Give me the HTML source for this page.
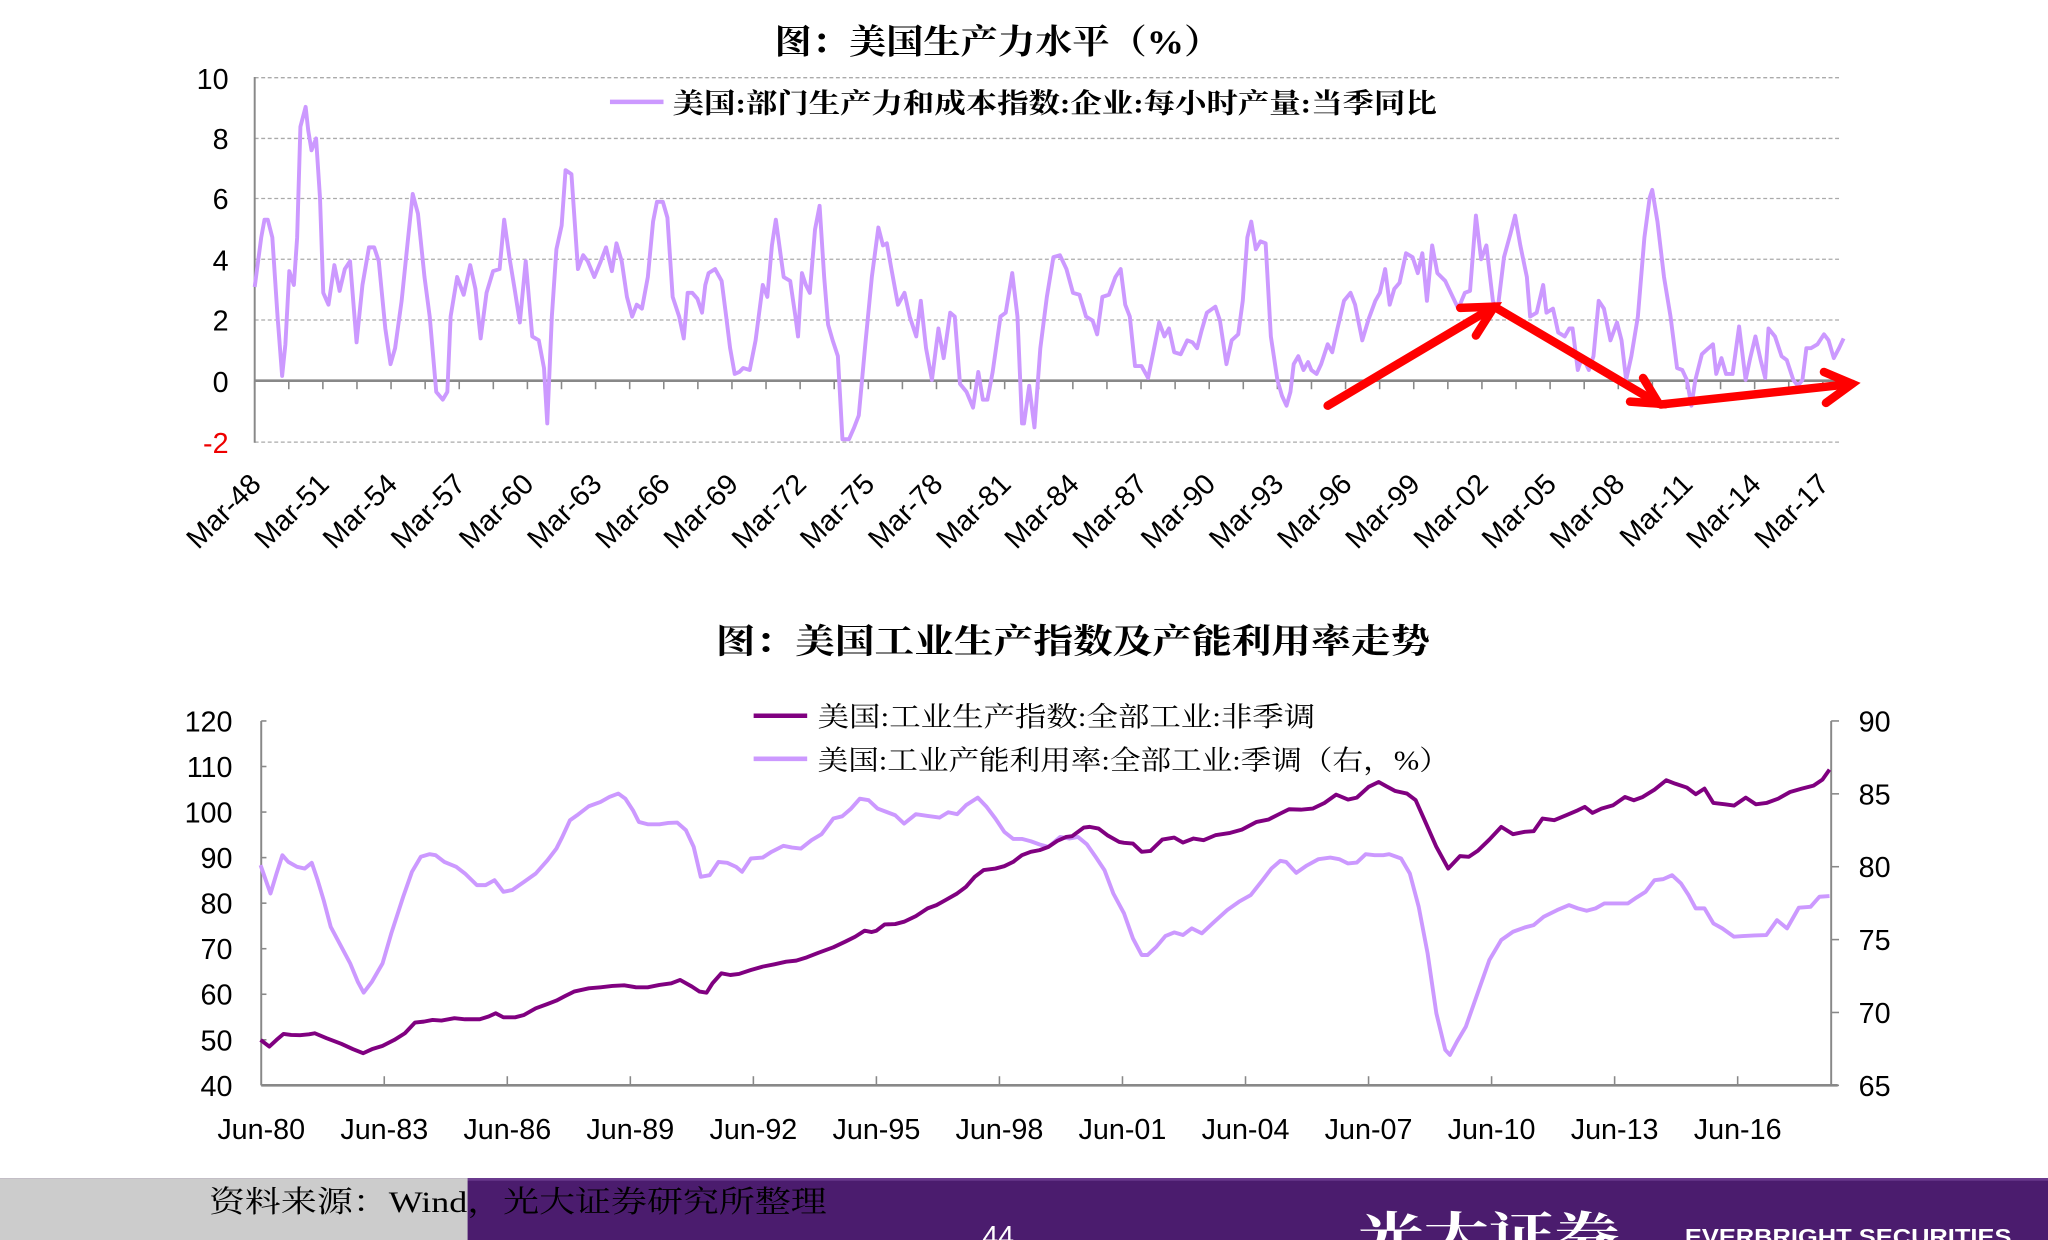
<!DOCTYPE html>
<html><head><meta charset="utf-8"><style>
html,body{margin:0;padding:0;background:#fff;}
svg{display:block;}
text{font-family:"Liberation Sans","Noto Sans CJK SC",sans-serif;}
.cj{font-family:"Liberation Serif","Noto Serif CJK SC",serif;}
</style></head><body>
<svg id="s" width="2048" height="1240" viewBox="0 0 1568 949.4" preserveAspectRatio="none" xmlns="http://www.w3.org/2000/svg">
<rect width="1568" height="949.4" fill="#fff"/>
<!-- chart 1 -->
<text class="cj" x="593" y="41" font-size="26" font-weight="bold" textLength="342" lengthAdjust="spacingAndGlyphs">图：美国生产力水平（%）</text>
<g stroke="#aaa" stroke-width="1" stroke-dasharray="3,2">
<line x1="195" y1="59.5" x2="1410" y2="59.5"/><line x1="195" y1="106" x2="1410" y2="106"/>
<line x1="195" y1="152" x2="1410" y2="152"/><line x1="195" y1="198.5" x2="1410" y2="198.5"/>
<line x1="195" y1="245" x2="1410" y2="245"/><line x1="195" y1="338.5" x2="1410" y2="338.5"/>
</g>
<line x1="195" y1="59" x2="195" y2="339" stroke="#888" stroke-width="1.5"/>
<line x1="195" y1="291.5" x2="1410" y2="291.5" stroke="#888" stroke-width="2"/>
<g id="t1" stroke="#888" stroke-width="1.2"></g>
<g font-size="22" text-anchor="end">
<text x="175" y="68">10</text><text x="175" y="114">8</text><text x="175" y="160">6</text>
<text x="175" y="207">4</text><text x="175" y="253">2</text><text x="175" y="300">0</text>
<text x="175" y="347" fill="#e00">-2</text>
</g>
<g id="xl1" font-size="22" text-anchor="end"></g>
<line x1="467" y1="78" x2="508" y2="78" stroke="#cc99ff" stroke-width="3.5"/>
<text class="cj" x="515" y="86" font-size="21" font-weight="bold" textLength="585" lengthAdjust="spacingAndGlyphs">美国:部门生产力和成本指数:企业:每小时产量:当季同比</text>
<path id="p1" fill="none" stroke="#cc99ff" stroke-width="3" stroke-linejoin="round"/>
<g id="arr" fill="none" stroke="#f00" stroke-width="6.5" stroke-linecap="round"></g>

<!-- chart 2 -->
<text class="cj" x="548" y="500" font-size="26" font-weight="bold" textLength="547" lengthAdjust="spacingAndGlyphs">图：美国工业生产指数及产能利用率走势</text>
<line x1="200" y1="552" x2="200" y2="831" stroke="#888" stroke-width="1.5"/>
<line x1="1402" y1="552" x2="1402" y2="831" stroke="#888" stroke-width="1.5"/>
<line x1="200" y1="831" x2="1407" y2="831" stroke="#888" stroke-width="2"/>
<g id="t2" stroke="#888" stroke-width="1.2"></g>
<g id="yl2" font-size="22"></g>
<g id="xl2" font-size="22" text-anchor="middle"></g>
<line x1="577" y1="548" x2="618" y2="548" stroke="#800080" stroke-width="3.5"/>
<text class="cj" x="626" y="556" font-size="21" textLength="381" lengthAdjust="spacingAndGlyphs">美国:工业生产指数:全部工业:非季调</text>
<line x1="577" y1="581" x2="618" y2="581" stroke="#cc99ff" stroke-width="3.5"/>
<text class="cj" x="626" y="589" font-size="21" textLength="484" lengthAdjust="spacingAndGlyphs">美国:工业产能利用率:全部工业:季调（右，%）</text>
<path id="cu" fill="none" stroke="#cc99ff" stroke-width="3" stroke-linejoin="round"/>
<path id="ip" fill="none" stroke="#800080" stroke-width="3" stroke-linejoin="round"/>

<!-- footer -->
<rect x="0" y="902" width="1568" height="48" fill="#4b1c6e"/>
<rect x="0" y="902" width="1568" height="2" fill="#6a3a8e"/>
<rect x="0" y="902" width="358" height="48" fill="#cccccc"/>
<text class="cj" x="160" y="928" font-size="23" textLength="473" lengthAdjust="spacingAndGlyphs">资料来源：Wind，光大证券研究所整理</text>
<text x="752" y="954" font-size="22" fill="#fff">44</text>
<text class="cj" x="1040" y="958" font-size="36" font-weight="bold" fill="#fff" textLength="200" lengthAdjust="spacingAndGlyphs">光大证券</text>
<text x="1290" y="953" font-size="17" font-weight="bold" fill="#fff" textLength="250" lengthAdjust="spacingAndGlyphs">EVERBRIGHT SECURITIES</text>
</svg>
<script>
function el(p,tag,a,txt){var e=document.createElementNS("http://www.w3.org/2000/svg",tag);for(var k in a)e.setAttribute(k,a[k]);if(txt)e.textContent=txt;p.appendChild(e);return e;}
function pth(pts,fx,fy){return pts.map(function(p,i){return (i?"L":"M")+fx(p[0]).toFixed(1)+" "+fy(p[1]).toFixed(1);}).join("");}
var z1=[[390,725],[400,600],[405,555],[410,555],[417,600],[425,800],[432,950],[437,870],[443,685],[450,720],[455,600],[460,320],[468,270],[472,330],[477,380],[484,350],[490,500],[495,740],[503,770],[512,670],[520,735],[528,680],[536,660],[546,865],[555,720],[565,625],[573,625],[580,660],[590,830],[598,920],[605,880],[615,760],[625,600],[632,490],[640,540],[650,700],[658,800],[668,990],[678,1010],[685,990],[690,800],[700,700],[710,745],[720,670],[728,730],[736,855],[745,740],[755,685],[765,680],[772,555],[780,650],[788,730],[796,815],[805,660],[815,850],[825,860],[833,930],[838,1070],[845,800],[852,630],[860,570],[866,430],[875,440],[885,680],[893,645],[900,660],[910,700],[920,660],[928,625],[937,685],[944,615],[952,660],[960,750],[968,800],[975,770],[983,780],[992,700],[1000,560],[1006,510],[1015,510],[1022,550],[1030,750],[1040,800],[1047,855],[1053,740],[1060,740],[1068,755],[1075,790],[1080,720],[1085,690],[1095,680],[1105,710],[1112,800],[1118,880],[1125,945],[1132,940],[1138,930],[1148,935],[1157,860],[1168,720],[1175,750],[1182,620],[1188,555],[1195,640],[1200,700],[1210,710],[1218,800],[1222,850],[1228,690],[1234,720],[1240,740],[1248,580],[1255,520],[1262,700],[1268,820],[1275,860],[1283,900],[1290,1110],[1300,1110],[1308,1080],[1315,1050],[1325,870],[1335,700],[1345,575],[1352,620],[1358,615],[1365,680],[1375,770],[1385,740],[1393,800],[1403,850],[1410,760],[1418,880],[1427,960],[1437,830],[1445,905],[1455,790],[1462,800],[1470,970],[1480,990],[1490,1030],[1498,940],[1505,1010],[1512,1010],[1520,940],[1532,800],[1540,790],[1550,690],[1558,800],[1565,1070]];
var z3=[[0,1070],[8,975],[16,1080],[25,880],[35,750],[45,650],[55,645],[65,680],[75,740],[85,745],[95,800],[105,810],[112,845],[120,750],[130,745],[140,700],[148,680],[155,770],[162,800],[170,925],[180,925],[190,955],[198,890],[207,815],[215,850],[222,830],[230,890],[240,895],[250,860],[258,865],[265,880],[272,835],[280,790],[293,775],[300,810],[310,920],[318,860],[328,845],[335,760],[342,600],[348,560],[355,630],[362,610],[370,615],[378,850],[388,960],[395,1000],[402,1025],[408,990],[413,920],[420,900],[428,935],[435,915],[440,935],[448,945],[455,920],[465,870],[472,890],[480,830],[490,760],[500,740],[507,770],[518,860],[528,805],[538,760],[545,740],[553,680],[560,770],[567,730],[575,715],[585,640],[595,650],[603,690],[610,640],[617,760],[625,620],[633,690],[645,710],[655,745],[665,780],[675,740],[683,735],[692,545],[700,655],[708,620],[718,760],[725,785],[735,650],[745,590],[752,545],[760,620],[770,700],[775,800],[785,790],[795,720],[800,790],[810,780],[818,840],[828,850],[835,830],[840,830],[848,935],[855,900],[865,935],[872,900],[880,760],[888,780],[898,860],[908,815],[915,860],[922,960],[930,900],[940,800],[950,600],[958,500],[962,480],[970,560],[980,700],[990,800],[1000,930],[1008,935],[1015,960],[1022,1025],[1028,960],[1038,895],[1048,880],[1055,870],[1060,945],[1068,905],[1075,945],[1085,945],[1095,825],[1105,960],[1112,905],[1120,850],[1128,910],[1135,955],[1140,830],[1150,850],[1160,900],[1168,910],[1178,960],[1185,975],[1192,960],[1198,880],[1205,880],[1215,870],[1225,845],[1232,860],[1240,905],[1248,880],[1255,855]];
var all=z1.map(function(p){return [p[0]/2,p[1]*0.303];}).concat(z3.map(function(p){return [784+p[0]/2,p[1]*0.303];}));
document.getElementById("p1").setAttribute("d",pth(all,function(x){return x;},function(y){return y;}));
var A=document.getElementById("arr");
function zz(a){return a.map(function(p){return [784+p[0]/2,p[1]*0.303];});}
[[[465,1025],[720,775]],[[668,778],[720,775],[692,848]],[[720,775],[972,1020]],[[948,955],[972,1020],[928,1015]],[[975,1022],[1268,970]],[[1225,940],[1268,970],[1228,1018]]].forEach(function(s){
 el(A,"path",{d:pth(zz(s),function(x){return x;},function(y){return y;})});});
var T1=document.getElementById("t1"),X1=document.getElementById("xl1");
for(var i=0;i<=46;i++){var x=195+i*26.1;if(x>1410)break;el(T1,"line",{x1:x,y1:291.5,x2:x,y2:298});}
for(var k=0;k<24;k++){var yr=48+3*k;var x=195+k*52.2;var lab="Mar-"+String(yr%100).padStart(2,"0");if(yr>117)break;
 el(X1,"text",{x:0,y:0,transform:"translate("+(x+6)+",372) rotate(-45)"},lab);}
var T2=document.getElementById("t2"),X2=document.getElementById("xl2"),Y2=document.getElementById("yl2");
var j=0;for(var yr=80;yr<=116;yr+=3,j++){var x=200+j*94.2;if(j>0)el(T2,"line",{x1:x,y1:824,x2:x,y2:831});
 el(X2,"text",{x:x,y:872},"Jun-"+String(yr%100).padStart(2,"0"));}
for(var v=40;v<=120;v+=10){var y=831-(v-40)*3.4875;el(T2,"line",{x1:200,y1:y,x2:204,y2:y});el(Y2,"text",{x:178,y:y+8,"text-anchor":"end"},String(v));}
for(var v=65;v<=90;v+=5){var y=831-(v-65)*11.16;el(T2,"line",{x1:1402,y1:y,x2:1408,y2:y});el(Y2,"text",{x:1423,y:y+8},String(v));}
var ip4=[[103,1080],[118,1100],[130,1080],[142,1062],[155,1065],[170,1066],[185,1063],[195,1060],[215,1075],[240,1092],[260,1108],[277,1120],[292,1108],[310,1098],[330,1080],[348,1060],[365,1028],[380,1025],[395,1020],[410,1022],[432,1015],[450,1018],[475,1018],[490,1010],[502,1000],[515,1012],[535,1012],[550,1005],[570,985],[590,972],[605,962],[620,948],[635,935],[660,925],[680,922],[700,918],[720,916],[740,922],[760,922],[780,915],[800,910],[815,900],[835,920],[848,935],[860,938],[870,910],[885,880],[900,885],[915,882],[935,870],[955,860],[975,853],[995,845],[1012,842],[1030,832],[1050,818],[1075,802],[1095,785],[1112,770],[1128,752],[1140,756],[1148,752],[1162,733],[1180,732],[1195,725],[1215,708],[1235,685],[1250,675],[1265,660],[1285,640],[1300,620],[1315,590],[1330,570],[1350,565],[1365,558],[1380,545],[1395,525],[1410,515],[1425,510],[1440,500],[1455,482],[1470,470],[1480,468],[1500,442],[1510,440],[1525,445],[1540,465],[1560,485]];
var ip5=[[0,488],[15,490],[30,515],[45,512],[65,478],[85,472],[100,487],[118,475],[135,480],[155,465],[180,458],[200,448],[225,425],[245,418],[265,400],[280,387],[300,388],[320,385],[340,368],[360,343],[380,358],[395,352],[415,320],[432,305],[445,318],[460,332],[480,340],[495,360],[510,420],[530,500],[550,565],[570,528],[585,530],[600,512],[620,478],[640,440],[660,462],[680,455],[695,453],[710,415],[730,420],[750,405],[770,390],[782,380],[795,398],[810,385],[830,375],[850,350],[865,360],[880,350],[900,328],[920,300],[935,310],[955,322],[970,342],[985,325],[1000,368],[1020,372],[1035,376],[1055,352],[1072,372],[1090,368],[1110,355],[1130,335],[1150,325],[1170,316],[1185,298],[1197,268]];
var cu4=[[103,555],[112,600],[120,640],[130,580],[140,525],[150,545],[165,560],[178,565],[190,548],[200,600],[210,660],[222,740],[240,800],[255,850],[268,905],[278,938],[292,905],[310,850],[325,760],[345,650],[360,575],[375,530],[390,522],[400,525],[415,545],[435,560],[450,580],[470,615],[485,615],[500,600],[515,635],[530,630],[550,605],[570,580],[590,540],[605,505],[615,470],[628,420],[640,405],[660,378],[680,365],[695,350],[710,340],[722,355],[735,390],[745,425],[760,432],[780,432],[795,428],[810,427],[825,450],[838,500],[850,590],[865,585],[880,545],[895,548],[910,560],[920,575],[935,535],[955,532],[970,515],[990,497],[1005,502],[1020,505],[1038,480],[1055,462],[1075,415],[1090,408],[1105,385],[1120,355],[1135,360],[1150,385],[1165,395],[1180,405],[1195,430],[1215,402],[1235,407],[1255,412],[1270,396],[1285,402],[1300,375],[1320,352],[1335,380],[1350,415],[1365,455],[1380,476],[1395,476],[1410,483],[1425,493],[1440,500],[1460,470],[1475,475],[1490,470],[1505,492],[1520,530],[1535,570],[1550,640]];
var cu5=[[0,700],[15,775],[30,825],[40,825],[55,800],[70,768],[85,757],[100,765],[115,745],[132,760],[150,730],[175,690],[195,665],[215,645],[235,600],[250,565],[265,542],[275,545],[292,578],[310,556],[330,537],[350,532],[365,537],[380,550],[395,547],[410,522],[425,525],[440,525],[450,522],[470,535],[485,580],[500,680],[515,820],[530,1000],[545,1110],[553,1125],[565,1085],[580,1040],[600,940],[620,840],[640,780],[660,755],[680,742],[695,735],[712,710],[735,690],[755,675],[770,685],[785,692],[800,685],[815,670],[835,670],[855,670],[870,652],[885,635],[900,600],[915,597],[930,585],[945,610],[958,645],[970,685],[985,685],[1000,730],[1015,745],[1035,770],[1050,768],[1070,766],[1090,765],[1108,720],[1125,745],[1145,683],[1165,680],[1180,650],[1197,648]];
function c4(a){return a.map(function(p){return [153+p[0]*0.4512,521+p[1]*0.2548];});}
function c5(a){return a.map(function(p){return [860.6+p[0]*0.4512,521+p[1]*0.2548];});}
var id=function(v){return v;};
document.getElementById("ip").setAttribute("d",pth(c4(ip4).concat(c5(ip5)),id,id));
document.getElementById("cu").setAttribute("d",pth(c4(cu4).concat(c5(cu5)),id,id));
</script>
</body></html>
